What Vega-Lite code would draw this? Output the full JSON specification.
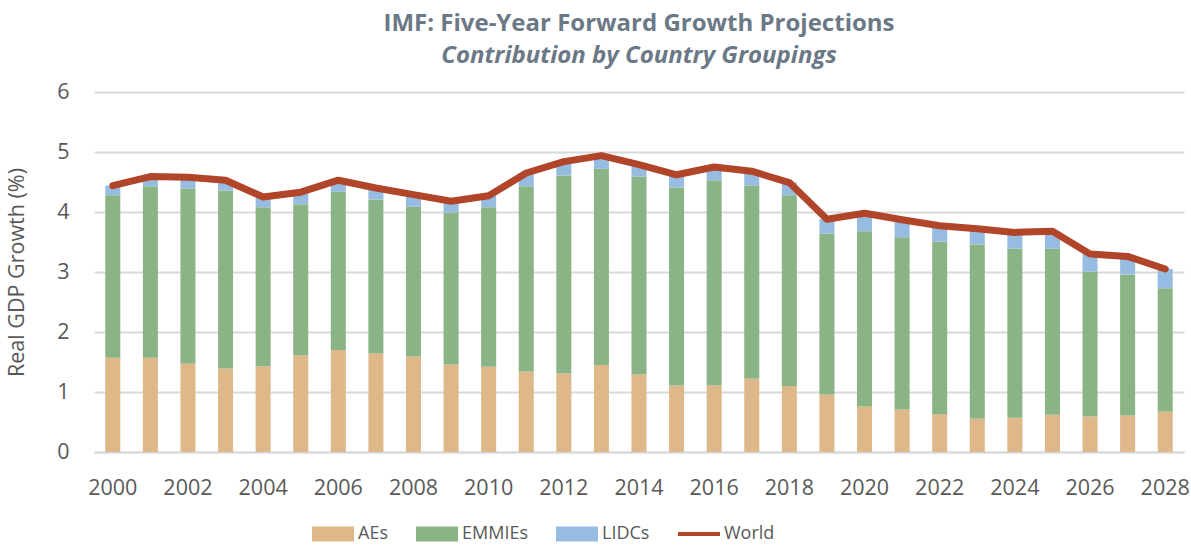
{
  "$schema": "https://vega.github.io/schema/vega-lite/v6.json",
  "autosize": {"type": "none"},
  "width": 1090,
  "height": 360,
  "padding": {"left": 94, "top": 92, "right": 7, "bottom": 94},
  "background": "white",
  "config": {
    "view": {"stroke": null},
    "font": "Open Sans",
    "axis": {"labelFont": "Open Sans", "titleFont": "Open Sans", "labelColor": "#595959", "titleColor": "#595959"}
  },
  "title": {
    "text": "IMF: Five-Year Forward Growth Projections",
    "subtitle": "Contribution by Country Groupings",
    "anchor": "middle",
    "frame": "group",
    "offset": 13,
    "font": "Open Sans",
    "fontSize": 24,
    "fontWeight": "bold",
    "color": "#6b7886",
    "subtitleFont": "Open Sans",
    "subtitleFontSize": 24,
    "subtitleFontWeight": "bold",
    "subtitleFontStyle": "italic",
    "subtitleColor": "#6b7886",
    "subtitlePadding": 8
  },
  "datasets": {
    "groups": [
      {"year": 2000, "group": "AEs", "value": 1.57}, {"year": 2000, "group": "EMMIEs", "value": 2.71}, {"year": 2000, "group": "LIDCs", "value": 0.16},
      {"year": 2001, "group": "AEs", "value": 1.57}, {"year": 2001, "group": "EMMIEs", "value": 2.86}, {"year": 2001, "group": "LIDCs", "value": 0.16},
      {"year": 2002, "group": "AEs", "value": 1.47}, {"year": 2002, "group": "EMMIEs", "value": 2.92}, {"year": 2002, "group": "LIDCs", "value": 0.19},
      {"year": 2003, "group": "AEs", "value": 1.39}, {"year": 2003, "group": "EMMIEs", "value": 2.97}, {"year": 2003, "group": "LIDCs", "value": 0.17},
      {"year": 2004, "group": "AEs", "value": 1.43}, {"year": 2004, "group": "EMMIEs", "value": 2.65}, {"year": 2004, "group": "LIDCs", "value": 0.17},
      {"year": 2005, "group": "AEs", "value": 1.61}, {"year": 2005, "group": "EMMIEs", "value": 2.52}, {"year": 2005, "group": "LIDCs", "value": 0.20},
      {"year": 2006, "group": "AEs", "value": 1.70}, {"year": 2006, "group": "EMMIEs", "value": 2.64}, {"year": 2006, "group": "LIDCs", "value": 0.19},
      {"year": 2007, "group": "AEs", "value": 1.64}, {"year": 2007, "group": "EMMIEs", "value": 2.57}, {"year": 2007, "group": "LIDCs", "value": 0.19},
      {"year": 2008, "group": "AEs", "value": 1.59}, {"year": 2008, "group": "EMMIEs", "value": 2.50}, {"year": 2008, "group": "LIDCs", "value": 0.20},
      {"year": 2009, "group": "AEs", "value": 1.46}, {"year": 2009, "group": "EMMIEs", "value": 2.53}, {"year": 2009, "group": "LIDCs", "value": 0.19},
      {"year": 2010, "group": "AEs", "value": 1.42}, {"year": 2010, "group": "EMMIEs", "value": 2.66}, {"year": 2010, "group": "LIDCs", "value": 0.19},
      {"year": 2011, "group": "AEs", "value": 1.34}, {"year": 2011, "group": "EMMIEs", "value": 3.09}, {"year": 2011, "group": "LIDCs", "value": 0.22},
      {"year": 2012, "group": "AEs", "value": 1.31}, {"year": 2012, "group": "EMMIEs", "value": 3.30}, {"year": 2012, "group": "LIDCs", "value": 0.23},
      {"year": 2013, "group": "AEs", "value": 1.45}, {"year": 2013, "group": "EMMIEs", "value": 3.27}, {"year": 2013, "group": "LIDCs", "value": 0.22},
      {"year": 2014, "group": "AEs", "value": 1.29}, {"year": 2014, "group": "EMMIEs", "value": 3.30}, {"year": 2014, "group": "LIDCs", "value": 0.20},
      {"year": 2015, "group": "AEs", "value": 1.11}, {"year": 2015, "group": "EMMIEs", "value": 3.30}, {"year": 2015, "group": "LIDCs", "value": 0.21},
      {"year": 2016, "group": "AEs", "value": 1.11}, {"year": 2016, "group": "EMMIEs", "value": 3.42}, {"year": 2016, "group": "LIDCs", "value": 0.22},
      {"year": 2017, "group": "AEs", "value": 1.22}, {"year": 2017, "group": "EMMIEs", "value": 3.22}, {"year": 2017, "group": "LIDCs", "value": 0.24},
      {"year": 2018, "group": "AEs", "value": 1.10}, {"year": 2018, "group": "EMMIEs", "value": 3.18}, {"year": 2018, "group": "LIDCs", "value": 0.21},
      {"year": 2019, "group": "AEs", "value": 0.96}, {"year": 2019, "group": "EMMIEs", "value": 2.68}, {"year": 2019, "group": "LIDCs", "value": 0.24},
      {"year": 2020, "group": "AEs", "value": 0.76}, {"year": 2020, "group": "EMMIEs", "value": 2.92}, {"year": 2020, "group": "LIDCs", "value": 0.30},
      {"year": 2021, "group": "AEs", "value": 0.71}, {"year": 2021, "group": "EMMIEs", "value": 2.87}, {"year": 2021, "group": "LIDCs", "value": 0.29},
      {"year": 2022, "group": "AEs", "value": 0.63}, {"year": 2022, "group": "EMMIEs", "value": 2.88}, {"year": 2022, "group": "LIDCs", "value": 0.26},
      {"year": 2023, "group": "AEs", "value": 0.56}, {"year": 2023, "group": "EMMIEs", "value": 2.90}, {"year": 2023, "group": "LIDCs", "value": 0.26},
      {"year": 2024, "group": "AEs", "value": 0.57}, {"year": 2024, "group": "EMMIEs", "value": 2.82}, {"year": 2024, "group": "LIDCs", "value": 0.27},
      {"year": 2025, "group": "AEs", "value": 0.62}, {"year": 2025, "group": "EMMIEs", "value": 2.77}, {"year": 2025, "group": "LIDCs", "value": 0.29},
      {"year": 2026, "group": "AEs", "value": 0.59}, {"year": 2026, "group": "EMMIEs", "value": 2.42}, {"year": 2026, "group": "LIDCs", "value": 0.29},
      {"year": 2027, "group": "AEs", "value": 0.61}, {"year": 2027, "group": "EMMIEs", "value": 2.35}, {"year": 2027, "group": "LIDCs", "value": 0.30},
      {"year": 2028, "group": "AEs", "value": 0.67}, {"year": 2028, "group": "EMMIEs", "value": 2.06}, {"year": 2028, "group": "LIDCs", "value": 0.32}
    ],
    "world": [
      {"year": 2000, "group": "World", "value": 4.44}, {"year": 2001, "group": "World", "value": 4.59},
      {"year": 2002, "group": "World", "value": 4.58}, {"year": 2003, "group": "World", "value": 4.53},
      {"year": 2004, "group": "World", "value": 4.25}, {"year": 2005, "group": "World", "value": 4.33},
      {"year": 2006, "group": "World", "value": 4.53}, {"year": 2007, "group": "World", "value": 4.40},
      {"year": 2008, "group": "World", "value": 4.29}, {"year": 2009, "group": "World", "value": 4.18},
      {"year": 2010, "group": "World", "value": 4.27}, {"year": 2011, "group": "World", "value": 4.65},
      {"year": 2012, "group": "World", "value": 4.84}, {"year": 2013, "group": "World", "value": 4.94},
      {"year": 2014, "group": "World", "value": 4.79}, {"year": 2015, "group": "World", "value": 4.62},
      {"year": 2016, "group": "World", "value": 4.75}, {"year": 2017, "group": "World", "value": 4.68},
      {"year": 2018, "group": "World", "value": 4.49}, {"year": 2019, "group": "World", "value": 3.88},
      {"year": 2020, "group": "World", "value": 3.98}, {"year": 2021, "group": "World", "value": 3.87},
      {"year": 2022, "group": "World", "value": 3.77}, {"year": 2023, "group": "World", "value": 3.72},
      {"year": 2024, "group": "World", "value": 3.66}, {"year": 2025, "group": "World", "value": 3.68},
      {"year": 2026, "group": "World", "value": 3.30}, {"year": 2027, "group": "World", "value": 3.26},
      {"year": 2028, "group": "World", "value": 3.05}
    ]
  },
  "encoding": {
    "x": {
      "field": "year", "type": "ordinal",
      "scale": {"paddingInner": 0.6, "paddingOuter": 0.3},
      "axis": {
        "title": null,
        "values": [2000, 2002, 2004, 2006, 2008, 2010, 2012, 2014, 2016, 2018, 2020, 2022, 2024, 2026, 2028],
        "labelAngle": 0, "labelFontSize": 21.5, "labelPadding": 25,
        "ticks": false, "domain": true, "domainColor": "#d9d9d9", "domainWidth": 2, "grid": false
      }
    },
    "y": {
      "field": "value", "type": "quantitative",
      "scale": {"domain": [0, 6], "nice": false},
      "axis": {
        "title": "Real GDP Growth (%)", "titleFontSize": 21.5, "titleFontWeight": "normal", "titlePadding": 28,
        "values": [0, 1, 2, 3, 4, 5, 6], "labelFontSize": 21.5, "labelPadding": 25,
        "ticks": false, "domain": false, "grid": true, "gridColor": "#d9d9d9", "gridWidth": 2
      }
    },
    "color": {
      "field": "group", "type": "nominal",
      "scale": {"domain": ["AEs", "EMMIEs", "LIDCs", "World"], "range": ["#deb888", "#8bb486", "#97bce2", "#b1452a"]},
      "legend": {
        "title": null, "orient": "none", "legendX": 218, "legendY": 421,
        "direction": "horizontal", "labelFontSize": 18, "labelColor": "#595959", "labelFont": "Open Sans",
        "symbolSize": 1764, "labelOffset": 4, "columnPadding": 28,
        "encode": {
          "symbols": {
            "update": {
              "shape": {"signal": "datum.value === 'World' ? 'M-1,-0.09H1V0.09H-1Z' : 'M-1,-0.36H1V0.36H-1Z'"},
              "fill": {"scale": "color", "field": "value"},
              "fillOpacity": {"value": 1},
              "strokeWidth": {"value": 0}
            }
          }
        }
      }
    }
  },
  "layer": [
    {
      "data": {"name": "groups"},
      "mark": {"type": "bar"},
      "encoding": {
        "order": {"field": "group", "sort": "ascending"}
      }
    },
    {
      "data": {"name": "world"},
      "mark": {"type": "line", "strokeWidth": 7, "strokeCap": "round", "strokeJoin": "round"},
      "encoding": {}
    }
  ]
}
